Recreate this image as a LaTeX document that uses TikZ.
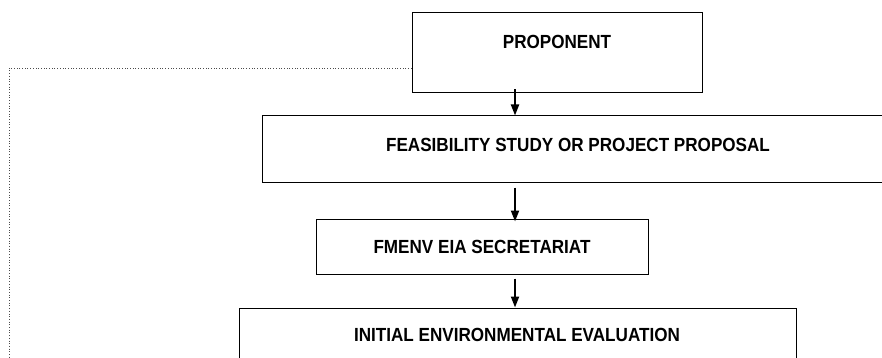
\documentclass[tikz,border=0pt]{standalone}
\usepackage{fontspec}
\setmainfont{Liberation Sans}[FakeStretch=0.9]
\usetikzlibrary{arrows.meta,calc}

\tikzset{
  stagebox/.style={draw=black, line width=1pt, rectangle, inner sep=0pt},
  stagetext/.style={font=\fontsize{19}{22}\selectfont\bfseries, inner sep=0pt, anchor=center},
  flow/.style={line width=2pt, -{Triangle[length=11pt,width=8pt]}},
  feedback/.style={draw=black!70, line width=0.7pt, dotted}
}

\begin{document}
\begin{tikzpicture}[x=1pt, y=1pt]
  \useasboundingbox (0,0) rectangle (882,-358);

  % stage boxes
  \node[stagebox, minimum width=290pt, minimum height=80pt] (prop) at (557,-53) {};
  \node[stagebox, minimum width=640pt, minimum height=66pt] (feas) at (582,-149) {};
  \node[stagebox, minimum width=332pt, minimum height=55pt] (fmenv) at (482,-246.5) {};
  \node[stagebox, minimum width=557pt, minimum height=110pt] (iee) at (517.5,-363) {};

  % stage labels
  \node[stagetext] (propT)  at (557,-42)  {PROPONENT};
  \node[stagetext] (feasT)  at (578,-145) {FEASIBILITY STUDY OR PROJECT PROPOSAL};
  \node[stagetext] (fmenvT) at (482,-247) {FMENV EIA SECRETARIAT};
  \node[stagetext] (ieeT)   at (517,-335) {INITIAL ENVIRONMENTAL EVALUATION};

  % downward flow, all on one column
  \coordinate (col) at (515,0);
  \draw[flow] ($(col |- prop.south)+(0,4)$) -- (col |- feas.north);
  \draw[flow] ($(col |- feas.south)+(0,-5)$) -- ($(col |- fmenv.north)+(0,-3)$);
  \draw[flow] ($(col |- fmenv.south)+(0,-4)$) -- (col |- iee.north);

  % dotted return line from the proponent
  \coordinate (fbCorner) at (9,-68);
  \coordinate (fbEnd) at (9,-370);
  \draw[feedback] (prop.west |- fbCorner) -- (fbCorner) -- (fbEnd);
\end{tikzpicture}
\end{document}
